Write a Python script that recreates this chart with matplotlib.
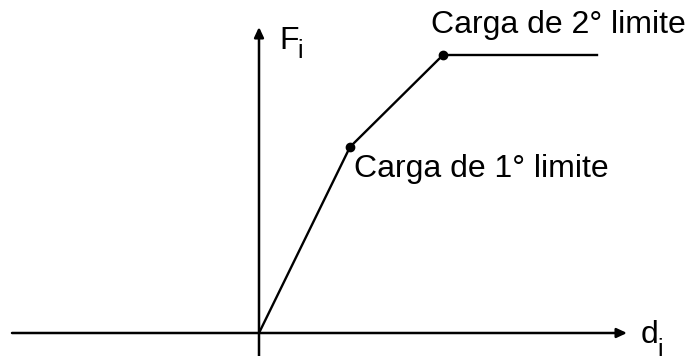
import matplotlib.pyplot as plt

# force-displacement curve (origin at the axes crossing)
curve_d = [0, 91, 184, 338]
curve_f = [0, 186, 278, 278]
limit_points = [1, 2]
limit_labels = ["Carga de 1° limite", "Carga de 2° limite"]

plt.rcParams["font.family"] = ["Liberation Sans", "DejaVu Sans"]

fig = plt.figure(figsize=(6.89, 3.56), dpi=100)
ax = fig.add_axes([0, 0, 1, 1])
ax.set_xlim(-259, 430)
ax.set_ylim(-23, 333)
ax.axis("off")

arrow = dict(arrowstyle="-|>,head_length=0.6,head_width=0.28", lw=1.8, color="black",
             shrinkA=0, shrinkB=0)
ax.annotate("", xy=(368, 0), xytext=(-247, 0), arrowprops=arrow)
ax.annotate("", xy=(0, 306), xytext=(0, -23), arrowprops=arrow)

ax.plot(curve_d, curve_f, color="black", lw=1.7, solid_joinstyle="miter")
ax.plot([curve_d[i] for i in limit_points], [curve_f[i] for i in limit_points],
        "o", color="black", ms=6)

ax.text(curve_d[1] + 4, curve_f[1] - 30, limit_labels[0], fontsize=23, va="baseline")
ax.text(curve_d[2] - 12, curve_f[2] + 22, limit_labels[1], fontsize=23, va="baseline")

ax.text(20, 284, "F", fontsize=23, va="baseline")
ax.text(38, 275, "i", fontsize=18, va="baseline")
ax.text(382, -10, "d", fontsize=23, va="baseline")
ax.text(398, -24, "i", fontsize=18, va="baseline")

fig.savefig("out.png")
